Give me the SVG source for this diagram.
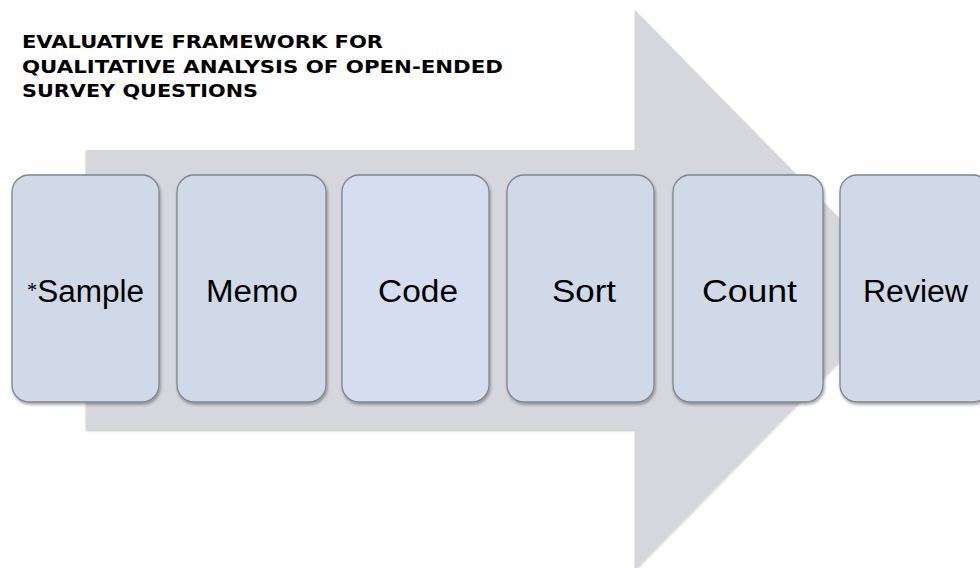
<svg xmlns="http://www.w3.org/2000/svg" width="980" height="568" viewBox="0 0 980 568">
<style>
.title{font-family:"DejaVu Sans","Liberation Sans",Arial,sans-serif;font-weight:bold;font-size:18.5px;fill:#000}
.box{fill:#d0d9e7;stroke:#7f858d;stroke-width:1.3}
.box2{fill:#d5def1;stroke:#7f858d;stroke-width:1.3}
.lbl{font-family:"Liberation Sans",Arial,sans-serif;font-size:31px;fill:#000;text-anchor:middle}
</style>
<defs>
<filter id="sh" x="-10%" y="-10%" width="130%" height="130%">
<feDropShadow dx="1" dy="2" stdDeviation="1.5" flood-color="#000" flood-opacity="0.35"/>
</filter>
<filter id="ash" x="-10%" y="-10%" width="130%" height="130%">
<feDropShadow dx="0" dy="1" stdDeviation="1" flood-color="#000" flood-opacity="0.25"/>
</filter>
</defs>
<rect width="980" height="568" fill="#fff"/>
<g id="title">
<text class="title" x="22" y="48" textLength="361" lengthAdjust="spacingAndGlyphs">EVALUATIVE FRAMEWORK FOR</text>
<text class="title" x="22" y="73" textLength="481" lengthAdjust="spacingAndGlyphs">QUALITATIVE ANALYSIS OF OPEN-ENDED</text>
<text class="title" x="22" y="97" textLength="236" lengthAdjust="spacingAndGlyphs">SURVEY QUESTIONS</text>
</g>
<g id="connectors">
<path id="arrow" d="M86,150 H635 V10 L910,290 L635,570 V430 H86 Z" fill="#d6d7dd" filter="url(#ash)"/>
</g>
<g id="node-sample">
<rect class="box" x="12" y="175" width="147" height="227" rx="17" filter="url(#sh)"/>
<text class="lbl" x="85.5" y="302" textLength="117" lengthAdjust="spacingAndGlyphs"><tspan font-size="20" font-family="Liberation Serif,serif" dy="-5">*</tspan><tspan dy="5">Sample</tspan></text>
</g>
<g id="node-memo">
<rect class="box" x="177" y="175" width="149" height="227" rx="17" filter="url(#sh)"/>
<text class="lbl" x="252" y="302" textLength="92" lengthAdjust="spacingAndGlyphs">Memo</text>
</g>
<g id="node-code">
<rect class="box2" x="342" y="175" width="147" height="227" rx="17" filter="url(#sh)"/>
<text class="lbl" x="418" y="302" textLength="80" lengthAdjust="spacingAndGlyphs">Code</text>
</g>
<g id="node-sort">
<rect class="box" x="507" y="175" width="147" height="227" rx="17" filter="url(#sh)"/>
<text class="lbl" x="584" y="302" textLength="64" lengthAdjust="spacingAndGlyphs">Sort</text>
</g>
<g id="node-count">
<rect class="box" x="673" y="175" width="150" height="227" rx="17" filter="url(#sh)"/>
<text class="lbl" x="749.5" y="302" textLength="95" lengthAdjust="spacingAndGlyphs">Count</text>
</g>
<g id="node-review">
<rect class="box" x="840" y="175" width="150" height="227" rx="17" filter="url(#sh)"/>
<text class="lbl" x="915.5" y="302" textLength="105" lengthAdjust="spacingAndGlyphs">Review</text>
</g>
</svg>
